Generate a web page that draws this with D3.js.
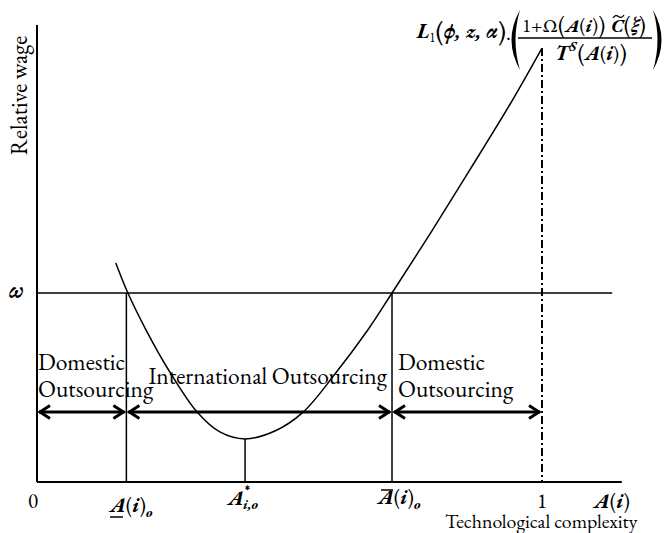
<!DOCTYPE html>
<html>
<head>
<meta charset="utf-8">
<script src="https://cdn.jsdelivr.net/npm/d3@7"></script>
<style>
  html, body { margin: 0; padding: 0; background: #fff; }
</style>
</head>
<body>
<svg id="chart" width="667" height="533"></svg>
<script>
// ---- data (A(i) = technological complexity, relative wage with omega = 1) ----
const curveA = [0.156, 0.180, 0.216, 0.263, 0.317, 0.362, 0.412, 0.471, 0.527, 0.590, 0.655, 0.703, 0.778, 0.857, 0.937, 1.000];
const curveW = [1.159, 1.000, 0.804, 0.582, 0.370, 0.265, 0.228, 0.270, 0.370, 0.571, 0.804, 1.000, 1.312, 1.651, 2.000, 2.296];
const omega = 1.0;
const aLow = 0.177;      // A(i)_o underlined
const aStar = 0.412;     // A*_{i,o}
const aHigh = 0.703;     // A(i)_o overlined
const aOne = 1.0;
const xAxisMax = 1.158;
const yAxisMax = 2.418;
const omegaLineEnd = 1.139;
const arrowLevel = 0.370;
const regionLabels = [
  { lines: ["Domestic", "Outsourcing"], from: 0, to: aLow },
  { lines: ["International Outsourcing"], from: aLow, to: aHigh },
  { lines: ["Domestic", "Outsourcing"], from: aHigh, to: aOne }
];
const axisTitleX = "Technological complexity";
const axisTitleY = "Relative wage";
const tickLabels = ["0", "1"];

const FONT = "'EB Garamond', 'Liberation Serif', 'Times New Roman', serif";

// ---- scales ----
const x = d3.scaleLinear().domain([0, 1]).range([37, 542]);
const y = d3.scaleLinear().domain([0, 1]).range([482, 293]);

const svg = d3.select("#chart").style("font-family", FONT);

function txt(parent, xx, yy, size) {
  return parent.append("text").attr("x", xx).attr("y", yy).attr("font-size", size)
    .style("font-family", FONT).style("font-variant-numeric", "lining-nums")
    .style("font-feature-settings", "'lnum' 1").attr("fill", "#000");
}
function it(t, s) {
  return t.append("tspan").style("font-style", "italic").style("font-weight", "bold").text(s);
}

// axes
svg.append("line").attr("x1", x(0)).attr("x2", x(0)).attr("y1", y(0)).attr("y2", y(yAxisMax))
  .attr("stroke", "#000").attr("stroke-width", 2);
svg.append("line").attr("x1", x(0)).attr("x2", x(xAxisMax)).attr("y1", y(0)).attr("y2", y(0))
  .attr("stroke", "#000").attr("stroke-width", 2);

// omega line
svg.append("line").attr("x1", x(0)).attr("x2", x(omegaLineEnd)).attr("y1", y(omega)).attr("y2", y(omega))
  .attr("stroke", "#000").attr("stroke-width", 1.5);

// vertical lines
[aLow, aHigh].forEach(a => {
  svg.append("line").attr("x1", x(a)).attr("x2", x(a)).attr("y1", y(omega)).attr("y2", y(0))
    .attr("stroke", "#000").attr("stroke-width", 1.5);
});
const minW = d3.min(curveW);
svg.append("line").attr("x1", x(aStar)).attr("x2", x(aStar)).attr("y1", y(minW)).attr("y2", y(0))
  .attr("stroke", "#000").attr("stroke-width", 1.5);

// dash-dot line at A = 1
svg.append("line").attr("x1", x(aOne)).attr("x2", x(aOne)).attr("y1", y(curveW[curveW.length - 1])).attr("y2", y(0))
  .attr("stroke", "#000").attr("stroke-width", 2).attr("stroke-dasharray", "8,3,2,3");

// curve
const pts = curveA.map((a, i) => [a, curveW[i]]);
svg.append("path").datum(pts)
  .attr("d", d3.line().x(d => x(d[0])).y(d => y(d[1])).curve(d3.curveCatmullRom.alpha(0.5)))
  .attr("fill", "none").attr("stroke", "#000").attr("stroke-width", 1.5);

// double-headed arrows
function arrow(a0, a1, inset0, inset1) {
  const x0 = x(a0) + inset0, x1 = x(a1) - inset1, yy = y(arrowLevel);
  const g = svg.append("g").attr("fill", "none").attr("stroke", "#000").attr("stroke-width", 3);
  g.append("line").attr("x1", x0).attr("x2", x1).attr("y1", yy).attr("y2", yy);
  g.append("path").attr("d", `M${x0 + 11},${yy - 6.5} L${x0 + 1},${yy} L${x0 + 11},${yy + 6.5}`);
  g.append("path").attr("d", `M${x1 - 11},${yy - 6.5} L${x1 - 1},${yy} L${x1 - 11},${yy + 6.5}`);
}
arrow(0, aLow, 2, 2);
arrow(aLow, aHigh, 2, 2);
arrow(aHigh, aOne, 2, 2);

// region labels
const RS = 23.5;
txt(svg, x(0) + 1, 370, RS).text(regionLabels[0].lines[0]);
txt(svg, x(0) + 1, 397, RS).text(regionLabels[0].lines[1]);
txt(svg, x(regionLabels[1].from) + 22, 384, RS).text(regionLabels[1].lines[0]);
txt(svg, x(regionLabels[2].from) + 6, 370, RS).text(regionLabels[2].lines[0]);
txt(svg, x(regionLabels[2].from) + 6, 397, RS).text(regionLabels[2].lines[1]);

// y axis title and omega
txt(svg, 0, 0, 23).attr("transform", "translate(27,95.5) rotate(-90)")
  .attr("text-anchor", "middle").text(axisTitleY);
it(txt(svg, 9, 298, 24), "ω");

// x axis tick labels
txt(svg, 33, 508, 21).attr("text-anchor", "middle").text(tickLabels[0]);
txt(svg, x(aOne), 508, 21).attr("text-anchor", "middle").text(tickLabels[1]);

function aLabel(xStart, base, sub, paren) {
  const t = txt(svg, xStart, base, 21);
  it(t, "A");
  if (paren) { t.append("tspan").text("("); it(t, "i"); t.append("tspan").text(")"); }
  if (sub) it(t, sub).attr("font-size", 14).attr("dy", 5);
  return t;
}
// underlined A(i)_o
aLabel(110, 512, "o", true);
svg.append("line").attr("x1", 110).attr("x2", 123).attr("y1", 517).attr("y2", 517).attr("stroke", "#000").attr("stroke-width", 1.5);
// A*_{i,o}
const as = txt(svg, x(aStar) - 17, 505, 21);
it(as, "A");
as.append("tspan").attr("font-size", 15).style("font-weight", "bold").attr("dy", -9).attr("dx", 1).text("*");
it(as, "i,o").attr("font-size", 14).attr("dy", 13).attr("dx", -7);
// overlined A(i)_o
aLabel(x(aHigh) - 14, 504, "o", true);
svg.append("line").attr("x1", x(aHigh) - 11).attr("x2", x(aHigh) + 1).attr("y1", 490).attr("y2", 490).attr("stroke", "#000").attr("stroke-width", 1.5);
// A(i) at axis end
aLabel(594, 508, null, true);

txt(svg, 445, 528, 19.8).text(axisTitleX);

// ---- formula at the top of the curve ----
const f = svg.append("g");
const l1 = txt(f, 417, 38, 21);
it(l1, "L");
l1.append("tspan").attr("font-size", 13).attr("dy", 4).text("1");
l1.append("tspan").attr("font-size", 27).attr("dy", -2).text("(");
it(l1, "ϕ, z, α").attr("dy", -2);
l1.append("tspan").attr("font-size", 27).attr("dy", 2).text(")");
l1.append("tspan").text(".");

// big parentheses
f.append("path").attr("d", "M520,10 Q503,40 520,70 Q511,40 520,10Z").attr("fill", "#000");
f.append("path").attr("d", "M653,10 Q670,40 653,70 Q662,40 653,10Z").attr("fill", "#000");

// numerator
const num = txt(f, 522, 32, 19);
num.append("tspan").text("1+Ω");
num.append("tspan").attr("font-size", 23).attr("dy", 1).text("(");
it(num, "A").attr("dy", -1);
num.append("tspan").text("(");
it(num, "i");
num.append("tspan").text(")");
num.append("tspan").attr("font-size", 23).attr("dy", 1).text(")");
const num2 = txt(f, 611, 32, 19);
it(num2, "C");
num2.append("tspan").attr("font-size", 23).attr("dy", 1).text("(");
it(num2, "ξ").attr("dy", -1);
num2.append("tspan").attr("font-size", 23).attr("dy", 1).text(")");
// tilde over C
f.append("path").attr("d", "M613,18 Q615.5,14 618.5,16.5 Q621.5,19 624,15")
  .attr("fill", "none").attr("stroke", "#000").attr("stroke-width", 1.3);

// fraction bar
f.append("line").attr("x1", 518).attr("x2", 652).attr("y1", 38).attr("y2", 38).attr("stroke", "#000").attr("stroke-width", 1.3);

// denominator
const den = txt(f, 555, 60, 20);
it(den, "T");
it(den, "S").attr("font-size", 13).attr("dy", -9).attr("dx", 1);
den.append("tspan").attr("font-size", 24).attr("dy", 10).attr("dx", 1).text("(");
it(den, "A").attr("dy", -1);
den.append("tspan").text("(");
it(den, "i");
den.append("tspan").text(")");
den.append("tspan").attr("font-size", 24).attr("dy", 1).text(")");
</script>
</body>
</html>
